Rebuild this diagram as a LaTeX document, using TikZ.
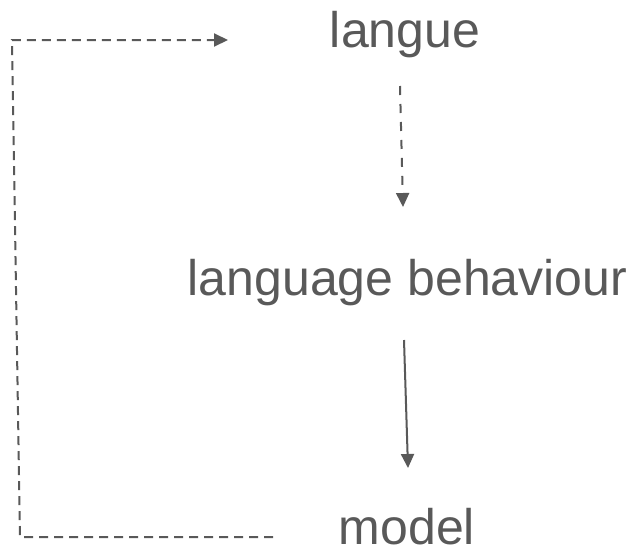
\documentclass[tikz,border=0pt]{standalone}
\usepackage{fontspec}
\setmainfont{Liberation Sans}
\usetikzlibrary{arrows.meta}
\definecolor{ink}{RGB}{89,89,89}
\begin{document}
\begin{tikzpicture}[x=1pt,y=-1pt,
  label/.style={text=ink,font=\fontsize{50}{58}\selectfont,inner sep=0pt,anchor=base},
  link/.style={draw=ink,line width=2pt,-{Triangle[length=14pt,width=13pt]}},
  dashlink/.style={link,dash pattern=on 9pt off 6pt},
  vdash/.style={link,dash pattern=on 9pt off 9pt}]
\useasboundingbox (0,0) rectangle (636,552);
% words
\node[label] (langue) at (405,47) {langue};
\node[label] (behav) at (407.5,295) {language behaviour};
\node[label] (model) at (407,544) {\smash{model}};
% anchor points for the connectors
\coordinate (a1) at (400,86);
\coordinate (a2) at (403,207);
\coordinate (b1) at (404,340);
\coordinate (b2) at (408,468);
\coordinate (c0) at (273,537);
\coordinate (c1) at (20,537);
\coordinate (c2) at (12,40);
\coordinate (c3) at (228,40);
% langue -> language behaviour
\draw[vdash] (a1) -- (a2);
% language behaviour -> model
\draw[link] (b1) -- (b2);
% model -> back to langue
\draw[dashlink] (c0) -- (c1) -- (c2) -- (c3);
\end{tikzpicture}
\end{document}
